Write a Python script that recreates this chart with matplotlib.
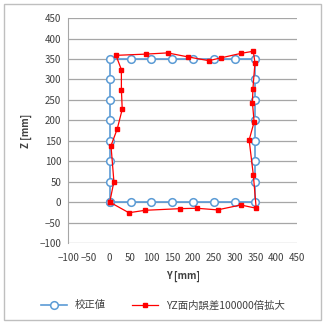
import matplotlib.pyplot as plt
from matplotlib.patches import Rectangle

plt.rcParams['font.family'] = ['Noto Sans CJK JP', 'DejaVu Sans']

# 校正値 (基準格子点)
cal_y = [0, 0, 0, 0, 0, 0, 0, 0,
         50, 100, 150, 200, 250, 300, 350,
         350, 350, 350, 350, 350, 350, 350,
         300, 250, 200, 150, 100, 50, 0]
cal_z = [0, 50, 100, 150, 200, 250, 300, 350,
         350, 350, 350, 350, 350, 350, 350,
         300, 250, 200, 150, 100, 50, 0,
         0, 0, 0, 0, 0, 0, 0]

# YZ面内誤差 100000倍拡大
err_y = [0, 10, 3, 18, 30, 28, 28, 15,
         87, 139, 189, 238, 268, 316, 345,
         349, 344, 343, 347, 335, 345, 352,
         315, 259, 209, 169, 85, 46, 0]
err_z = [0, 50, 138, 179, 227, 275, 324, 359,
         362, 365, 355, 346, 353, 364, 369,
         341, 276, 242, 196, 152, 67, -15,
         -7, -19, -15, -16, -20, -26, 0]

fig = plt.figure(figsize=(3.26, 3.24), dpi=100)
ax = fig.add_axes([0.209, 0.25, 0.702, 0.694])

ax.plot(cal_y, cal_z, color='#5B9BD5', lw=1.2, marker='o', ms=5.5,
        mfc='white', mec='#5B9BD5', mew=1.1, label='校正値', zorder=2)
ax.plot(err_y, err_z, color='#FF0000', lw=0.9, marker='s', ms=3.4,
        mfc='#FF0000', mec='#FF0000', label='YZ面内誤差100000倍拡大', zorder=3)

ax.set_xlim(-100, 450)
ax.set_ylim(-100, 450)
ax.set_xticks(range(-100, 451, 50))
ax.set_yticks(range(-100, 451, 50))
ax.set_xticklabels(['\u2212100', '\u221250'] + [str(v) for v in range(0, 451, 50)])
ax.tick_params(length=0, labelsize=7, colors='#404040')
ax.tick_params(axis='x', pad=7)
ax.tick_params(axis='y', pad=5)
ax.grid(axis='y', color='#A6A6A6', lw=0.9)
ax.set_axisbelow(True)
for s in ['top', 'right', 'bottom']:
    ax.spines[s].set_visible(False)
ax.spines['left'].set_color('#A6A6A6')

ax.set_xlabel('Y [mm]', fontsize=7, fontweight='bold', color='#404040', labelpad=6)
ax.set_ylabel('Z [mm]', fontsize=7, fontweight='bold', color='#404040', labelpad=5)

fig.legend(loc='center', bbox_to_anchor=(0.5, 0.058), ncol=2, frameon=False,
           fontsize=7.5, handlelength=2.5, columnspacing=2.5, labelcolor='#404040')

fig.patches.append(Rectangle((0.012, 0.012), 0.973, 0.976, transform=fig.transFigure,
                             fill=False, ec='#BFBFBF', lw=1))

fig.savefig('out.png', dpi=100)
